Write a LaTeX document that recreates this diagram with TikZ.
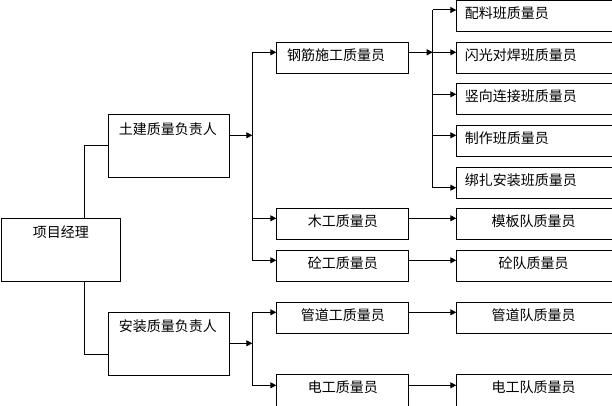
\documentclass[tikz,border=0pt]{standalone}
\usepackage{fontspec}
\setmainfont{Noto Sans CJK SC}
\usetikzlibrary{arrows.meta}
\tikzset{
    box/.style={draw,line width=1pt,anchor=north west,inner sep=0pt},
    pmbox/.style={box,text width=119.8pt,align=center,text height=19.3pt,text depth=44pt},
    leadbox/.style={box,text width=100.4pt,inner xsep=10pt,align=left,text height=19.3pt,text depth=43.7pt},
    midbox/.style={box,text width=132pt,align=center,text height=17.8pt,text depth=13.2pt},
    steelbox/.style={midbox,text width=111.6pt,inner xsep=10.2pt,align=left},
    teambox/.style={box,text width=154pt,inner xsep=8pt,align=left,text height=17.8pt,text depth=13.2pt},
    crewbox/.style={box,text width=170pt,align=center,text height=17.8pt,text depth=13.2pt,
        execute at begin node={\hspace*{-16.6pt}}},
    cutbox/.style={text depth=20pt},
    link/.style={line width=1pt},
    feed/.style={link,-{Triangle[length=6pt,width=6pt]}}
}
\begin{document}
\begin{tikzpicture}[x=1pt,y=-1pt,font=\fontsize{14pt}{16pt}\selectfont]
\useasboundingbox (0,0) rectangle (612,406);
\clip (0,0) rectangle (612,406);
% boxes
\node[pmbox] (pm) at (0.5,218) {项目经理};
\node[leadbox] (civ) at (108.3,114.3) {土建质量负责人};
\node[leadbox] (ins) at (108.3,311.8) {安装质量负责人};
\node[steelbox] (steel) at (276.3,42.3) {钢筋施工质量员};
\node[midbox] (wood) at (276.3,208.3) {木工质量员};
\node[midbox] (conc) at (276.3,250.3) {砼工质量员};
\node[midbox] (pipe) at (276.3,302.3) {管道工质量员};
\node[midbox,cutbox] (elec) at (276.3,374.3) {电工质量员};
\node[teambox] (mix) at (456.3,0.5) {配料班质量员};
\node[teambox] (flash) at (456.3,42.3) {闪光对焊班质量员};
\node[teambox] (joint) at (456.3,83.3) {竖向连接班质量员};
\node[teambox] (make) at (456.3,125.3) {制作班质量员};
\node[teambox] (bind) at (456.3,167) {绑扎安装班质量员};
\node[crewbox] (mold) at (456.3,208.3) {模板队质量员};
\node[crewbox] (concteam) at (456.3,250.3) {砼队质量员};
\node[crewbox] (pipeteam) at (456.3,302.3) {管道队质量员};
\node[crewbox,cutbox] (electeam) at (456.3,374.3) {电工队质量员};
% junctions
\coordinate (pu) at (84.3,146);
\coordinate (pd) at (84.3,354.3);
\coordinate (a0) at (252.3,52.3);
\coordinate (ain) at (252.3,135.3);
\coordinate (a1) at (252.3,218.3);
\coordinate (a2) at (252.3,260.3);
\coordinate (b0) at (252.3,312.3);
\coordinate (bin) at (252.3,343.3);
\coordinate (b1) at (252.3,385.3);
\coordinate (c1) at (432.7,10);
\coordinate (c2) at (432.7,52.3);
\coordinate (c3) at (432.7,94.3);
\coordinate (c4) at (432.7,135.3);
\coordinate (c5) at (432.7,187.7);
% connectors
\draw[link] (pm.north -| pu) -- (pu) -- (pu -| civ.west);
\draw[link] (pm.south -| pd) -- (pd) -- (pd -| ins.west);
\draw[feed] (civ.east |- ain) -- (ain);
\draw[link] (a0) -- (a2);
\draw[feed] (a0) -- (a0 -| steel.west);
\draw[feed] (a1) -- (a1 -| wood.west);
\draw[feed] (a2) -- (a2 -| conc.west);
\draw[feed] (ins.east |- bin) -- (bin);
\draw[link] (b0) -- (b1);
\draw[feed] (b0) -- (b0 -| pipe.west);
\draw[feed] (b1) -- (b1 -| elec.west);
\draw[feed] (steel.east |- c2) -- (c2);
\draw[link] (c1) -- (c5);
\draw[feed] (c1) -- (c1 -| mix.west);
\draw[feed] (c2) -- (c2 -| flash.west);
\draw[feed] (c3) -- (c3 -| joint.west);
\draw[feed] (c4) -- (c4 -| make.west);
\draw[feed] (c5) -- (c5 -| bind.west);
\draw[feed] (wood.east |- a1) -- (a1 -| mold.west);
\draw[feed] (conc.east |- a2) -- (a2 -| concteam.west);
\draw[feed] (pipe.east |- b0) -- (b0 -| pipeteam.west);
\draw[feed] (elec.east |- b1) -- (b1 -| electeam.west);
\end{tikzpicture}
\end{document}
